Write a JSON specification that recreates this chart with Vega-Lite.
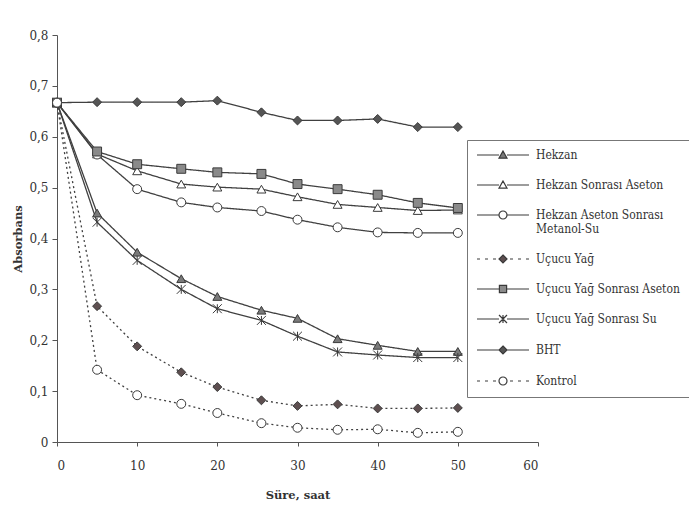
{
  "$schema": "https://vega.github.io/schema/vega-lite/v6.json",
  "width": 481,
  "height": 407,
  "autosize": {"type": "none"},
  "padding": {"left": 57, "top": 35, "right": 151, "bottom": 73},
  "background": "white",
  "config": {
    "view": {"stroke": null},
    "font": "DejaVu Serif",
    "axis": {"grid": false, "domainColor": "#555", "tickColor": "#555", "labelColor": "#333", "titleColor": "#333", "labelFont": "DejaVu Serif", "titleFont": "DejaVu Serif", "labelFontSize": 12, "titleFontSize": 11.5, "titleFontWeight": "bold"},
    "legend": {"symbolStrokeColor": "#3a3a3a", "symbolStrokeWidth": 1.2, "labelFont": "DejaVu Serif Condensed, DejaVu Serif"}
  },
  "data": {"values": [
    {"s": "Hekzan", "t": 0, "a": 0.667}, {"s": "Hekzan", "t": 5, "a": 0.450}, {"s": "Hekzan", "t": 10, "a": 0.373}, {"s": "Hekzan", "t": 15.5, "a": 0.321}, {"s": "Hekzan", "t": 20, "a": 0.286}, {"s": "Hekzan", "t": 25.5, "a": 0.259}, {"s": "Hekzan", "t": 30, "a": 0.243}, {"s": "Hekzan", "t": 35, "a": 0.203}, {"s": "Hekzan", "t": 40, "a": 0.190}, {"s": "Hekzan", "t": 45, "a": 0.178}, {"s": "Hekzan", "t": 50, "a": 0.178},
    {"s": "Hekzan Sonrası Aseton", "t": 0, "a": 0.667}, {"s": "Hekzan Sonrası Aseton", "t": 5, "a": 0.566}, {"s": "Hekzan Sonrası Aseton", "t": 10, "a": 0.533}, {"s": "Hekzan Sonrası Aseton", "t": 15.5, "a": 0.507}, {"s": "Hekzan Sonrası Aseton", "t": 20, "a": 0.501}, {"s": "Hekzan Sonrası Aseton", "t": 25.5, "a": 0.497}, {"s": "Hekzan Sonrası Aseton", "t": 30, "a": 0.482}, {"s": "Hekzan Sonrası Aseton", "t": 35, "a": 0.467}, {"s": "Hekzan Sonrası Aseton", "t": 40, "a": 0.461}, {"s": "Hekzan Sonrası Aseton", "t": 45, "a": 0.455}, {"s": "Hekzan Sonrası Aseton", "t": 50, "a": 0.456},
    {"s": "Hekzan Aseton Sonrası Metanol-Su", "t": 0, "a": 0.667}, {"s": "Hekzan Aseton Sonrası Metanol-Su", "t": 5, "a": 0.565}, {"s": "Hekzan Aseton Sonrası Metanol-Su", "t": 10, "a": 0.497}, {"s": "Hekzan Aseton Sonrası Metanol-Su", "t": 15.5, "a": 0.471}, {"s": "Hekzan Aseton Sonrası Metanol-Su", "t": 20, "a": 0.461}, {"s": "Hekzan Aseton Sonrası Metanol-Su", "t": 25.5, "a": 0.454}, {"s": "Hekzan Aseton Sonrası Metanol-Su", "t": 30, "a": 0.437}, {"s": "Hekzan Aseton Sonrası Metanol-Su", "t": 35, "a": 0.422}, {"s": "Hekzan Aseton Sonrası Metanol-Su", "t": 40, "a": 0.412}, {"s": "Hekzan Aseton Sonrası Metanol-Su", "t": 45, "a": 0.411}, {"s": "Hekzan Aseton Sonrası Metanol-Su", "t": 50, "a": 0.411},
    {"s": "Uçucu Yağ", "t": 0, "a": 0.667}, {"s": "Uçucu Yağ", "t": 5, "a": 0.267}, {"s": "Uçucu Yağ", "t": 10, "a": 0.188}, {"s": "Uçucu Yağ", "t": 15.5, "a": 0.137}, {"s": "Uçucu Yağ", "t": 20, "a": 0.108}, {"s": "Uçucu Yağ", "t": 25.5, "a": 0.082}, {"s": "Uçucu Yağ", "t": 30, "a": 0.071}, {"s": "Uçucu Yağ", "t": 35, "a": 0.074}, {"s": "Uçucu Yağ", "t": 40, "a": 0.066}, {"s": "Uçucu Yağ", "t": 45, "a": 0.066}, {"s": "Uçucu Yağ", "t": 50, "a": 0.067},
    {"s": "Uçucu Yağ Sonrası Aseton", "t": 0, "a": 0.667}, {"s": "Uçucu Yağ Sonrası Aseton", "t": 5, "a": 0.571}, {"s": "Uçucu Yağ Sonrası Aseton", "t": 10, "a": 0.546}, {"s": "Uçucu Yağ Sonrası Aseton", "t": 15.5, "a": 0.537}, {"s": "Uçucu Yağ Sonrası Aseton", "t": 20, "a": 0.530}, {"s": "Uçucu Yağ Sonrası Aseton", "t": 25.5, "a": 0.527}, {"s": "Uçucu Yağ Sonrası Aseton", "t": 30, "a": 0.507}, {"s": "Uçucu Yağ Sonrası Aseton", "t": 35, "a": 0.497}, {"s": "Uçucu Yağ Sonrası Aseton", "t": 40, "a": 0.486}, {"s": "Uçucu Yağ Sonrası Aseton", "t": 45, "a": 0.470}, {"s": "Uçucu Yağ Sonrası Aseton", "t": 50, "a": 0.460},
    {"s": "Uçucu Yağ Sonrası Su", "t": 0, "a": 0.667}, {"s": "Uçucu Yağ Sonrası Su", "t": 5, "a": 0.432}, {"s": "Uçucu Yağ Sonrası Su", "t": 10, "a": 0.357}, {"s": "Uçucu Yağ Sonrası Su", "t": 15.5, "a": 0.300}, {"s": "Uçucu Yağ Sonrası Su", "t": 20, "a": 0.262}, {"s": "Uçucu Yağ Sonrası Su", "t": 25.5, "a": 0.239}, {"s": "Uçucu Yağ Sonrası Su", "t": 30, "a": 0.208}, {"s": "Uçucu Yağ Sonrası Su", "t": 35, "a": 0.177}, {"s": "Uçucu Yağ Sonrası Su", "t": 40, "a": 0.171}, {"s": "Uçucu Yağ Sonrası Su", "t": 45, "a": 0.166}, {"s": "Uçucu Yağ Sonrası Su", "t": 50, "a": 0.166},
    {"s": "BHT", "t": 0, "a": 0.667}, {"s": "BHT", "t": 5, "a": 0.668}, {"s": "BHT", "t": 10, "a": 0.668}, {"s": "BHT", "t": 15.5, "a": 0.668}, {"s": "BHT", "t": 20, "a": 0.671}, {"s": "BHT", "t": 25.5, "a": 0.648}, {"s": "BHT", "t": 30, "a": 0.632}, {"s": "BHT", "t": 35, "a": 0.632}, {"s": "BHT", "t": 40, "a": 0.635}, {"s": "BHT", "t": 45, "a": 0.619}, {"s": "BHT", "t": 50, "a": 0.619},
    {"s": "Kontrol", "t": 0, "a": 0.667}, {"s": "Kontrol", "t": 5, "a": 0.142}, {"s": "Kontrol", "t": 10, "a": 0.092}, {"s": "Kontrol", "t": 15.5, "a": 0.075}, {"s": "Kontrol", "t": 20, "a": 0.057}, {"s": "Kontrol", "t": 25.5, "a": 0.037}, {"s": "Kontrol", "t": 30, "a": 0.028}, {"s": "Kontrol", "t": 35, "a": 0.024}, {"s": "Kontrol", "t": 40, "a": 0.025}, {"s": "Kontrol", "t": 45, "a": 0.018}, {"s": "Kontrol", "t": 50, "a": 0.020}
  ]},
  "encoding": {
    "x": {"field": "t", "type": "quantitative", "title": "Süre, saat", "scale": {"domain": [0, 60], "nice": false}, "axis": {"values": [0, 10, 20, 30, 40, 50, 60], "tickSize": 4, "labelPadding": 14, "titlePadding": 18}},
    "y": {"field": "a", "type": "quantitative", "title": "Absorbans", "scale": {"domain": [0, 0.8], "nice": false}, "axis": {"values": [0, 0.1, 0.2, 0.3, 0.4, 0.5, 0.6, 0.7, 0.8], "format": ".1~f", "labelExpr": "replace(datum.label, '.', ',')", "tickSize": 5, "labelPadding": 4, "titlePadding": 5}}
  },
  "layer": [
    {
      "mark": {"type": "line", "color": "#404040", "strokeWidth": 1.3},
      "encoding": {
        "detail": {"field": "s"},
        "strokeDash": {"field": "s", "type": "nominal", "legend": null,
          "scale": {"domain": ["Hekzan", "Hekzan Sonrası Aseton", "Hekzan Aseton Sonrası Metanol-Su", "Uçucu Yağ", "Uçucu Yağ Sonrası Aseton", "Uçucu Yağ Sonrası Su", "BHT", "Kontrol"],
                    "range": [[1, 0], [1, 0], [1, 0], [2, 3], [1, 0], [1, 0], [1, 0], [2, 3]]}}
      }
    },
    {
      "mark": {"type": "point", "filled": true, "stroke": "#3a3a3a", "strokeWidth": 1, "opacity": 1, "size": 80},
      "encoding": {
        "shape": {"field": "s", "type": "nominal", "legend": null,
          "scale": {"domain": ["Hekzan", "Hekzan Sonrası Aseton", "Hekzan Aseton Sonrası Metanol-Su", "Uçucu Yağ", "Uçucu Yağ Sonrası Aseton", "Uçucu Yağ Sonrası Su", "BHT", "Kontrol"],
                    "range": ["triangle-up", "triangle-up", "circle", "diamond", "square", "M-1,-1L1,1M-1,1L1,-1M0,-1V1", "diamond", "circle"]}},
        "fill": {"field": "s", "type": "nominal", "legend": null,
          "scale": {"domain": ["Hekzan", "Hekzan Sonrası Aseton", "Hekzan Aseton Sonrası Metanol-Su", "Uçucu Yağ", "Uçucu Yağ Sonrası Aseton", "Uçucu Yağ Sonrası Su", "BHT", "Kontrol"],
                    "range": ["#7a7a7a", "#ffffff", "#ffffff", "#5e4f50", "#8a8a8a", "transparent", "#555555", "#ffffff"]}}
      }
    },
    {
      "mark": {"type": "point", "filled": false, "stroke": "#3a3a3a", "strokeWidth": 1.2, "opacity": 0},
      "encoding": {
        "shape": {"field": "s", "type": "nominal", "title": null,
          "scale": {"domain": ["Hekzan", "Hekzan Sonrası Aseton", "Hekzan Aseton Sonrası Metanol-Su", "Uçucu Yağ", "Uçucu Yağ Sonrası Aseton", "Uçucu Yağ Sonrası Su", "BHT", "Kontrol"],
                    "range": [
                      "M-6.5,0H-1M1,0H6.5M0,-1L1,0.8L-1,0.8Z",
                      "M-6.5,0H-1M1,0H6.5M0,-1L1,0.8L-1,0.8Z",
                      "M-6.5,0H-1M1,0H6.5M1,0A1,1,0,1,1,-1,0A1,1,0,1,1,1,0Z",
                      "M-6.5,0H-5.75M-4.5,0H-3.75M-2.5,0H-1.75M1.75,0H2.5M3.75,0H4.5M5.75,0H6.5M0,-1L1,0L0,1L-1,0Z",
                      "M-6.5,0H-0.9M0.9,0H6.5M-0.9,-0.9H0.9V0.9H-0.9Z",
                      "M-6.5,0H-1M1,0H6.5M-1,-1L1,1M-1,1L1,-1M0,-1V1",
                      "M-6.5,0H-1M1,0H6.5M0,-1L1,0L0,1L-1,0Z",
                      "M-6.5,0H-5.75M-4.5,0H-3.75M-2.5,0H-1.75M1.75,0H2.5M3.75,0H4.5M5.75,0H6.5M1,0A1,1,0,1,1,-1,0A1,1,0,1,1,1,0Z"
                    ]},
          "legend": {
            "orient": "none", "legendX": 410, "legendY": 105,
            "fillColor": "white", "strokeColor": "#777", "padding": 9,
            "symbolSize": 64, "symbolOffset": 21, "labelOffset": 27,
            "symbolStrokeColor": "#3a3a3a", "symbolStrokeWidth": 1.2, "symbolOpacity": 1,
            "labelFont": "DejaVu Serif Condensed, DejaVu Serif", "labelFontSize": 12, "labelColor": "#333", "labelLimit": 300,
            "rowPadding": 17,
            "labelExpr": "datum.label == 'Hekzan Aseton Sonrası Metanol-Su' ? ['Hekzan Aseton Sonrası', 'Metanol-Su'] : datum.label",
            "encode": {"symbols": {"update": {"opacity": {"value": 1}, "stroke": {"value": "#3a3a3a"}, "strokeWidth": {"value": 1.2}, "strokeOpacity": {"value": 1}}}}
          }
        },
        "fill": {"field": "s", "type": "nominal", "title": null,
          "scale": {"domain": ["Hekzan", "Hekzan Sonrası Aseton", "Hekzan Aseton Sonrası Metanol-Su", "Uçucu Yağ", "Uçucu Yağ Sonrası Aseton", "Uçucu Yağ Sonrası Su", "BHT", "Kontrol"],
                    "range": ["#7a7a7a", "#ffffff", "#ffffff", "#5e4f50", "#8a8a8a", "transparent", "#555555", "#ffffff"]},
          "legend": {
            "orient": "none", "legendX": 410, "legendY": 105,
            "fillColor": "white", "strokeColor": "#777", "padding": 9,
            "symbolSize": 64, "symbolOffset": 21, "labelOffset": 27,
            "symbolStrokeColor": "#3a3a3a", "symbolStrokeWidth": 1.2, "symbolOpacity": 1,
            "labelFont": "DejaVu Serif Condensed, DejaVu Serif", "labelFontSize": 12, "labelColor": "#333", "labelLimit": 300,
            "rowPadding": 17,
            "labelExpr": "datum.label == 'Hekzan Aseton Sonrası Metanol-Su' ? ['Hekzan Aseton Sonrası', 'Metanol-Su'] : datum.label",
            "encode": {"symbols": {"update": {"opacity": {"value": 1}, "stroke": {"value": "#3a3a3a"}, "strokeWidth": {"value": 1.2}, "strokeOpacity": {"value": 1}}}}
          }
        }
      }
    }
  ],
  "resolve": {"scale": {"shape": "independent", "fill": "independent"}}
}
